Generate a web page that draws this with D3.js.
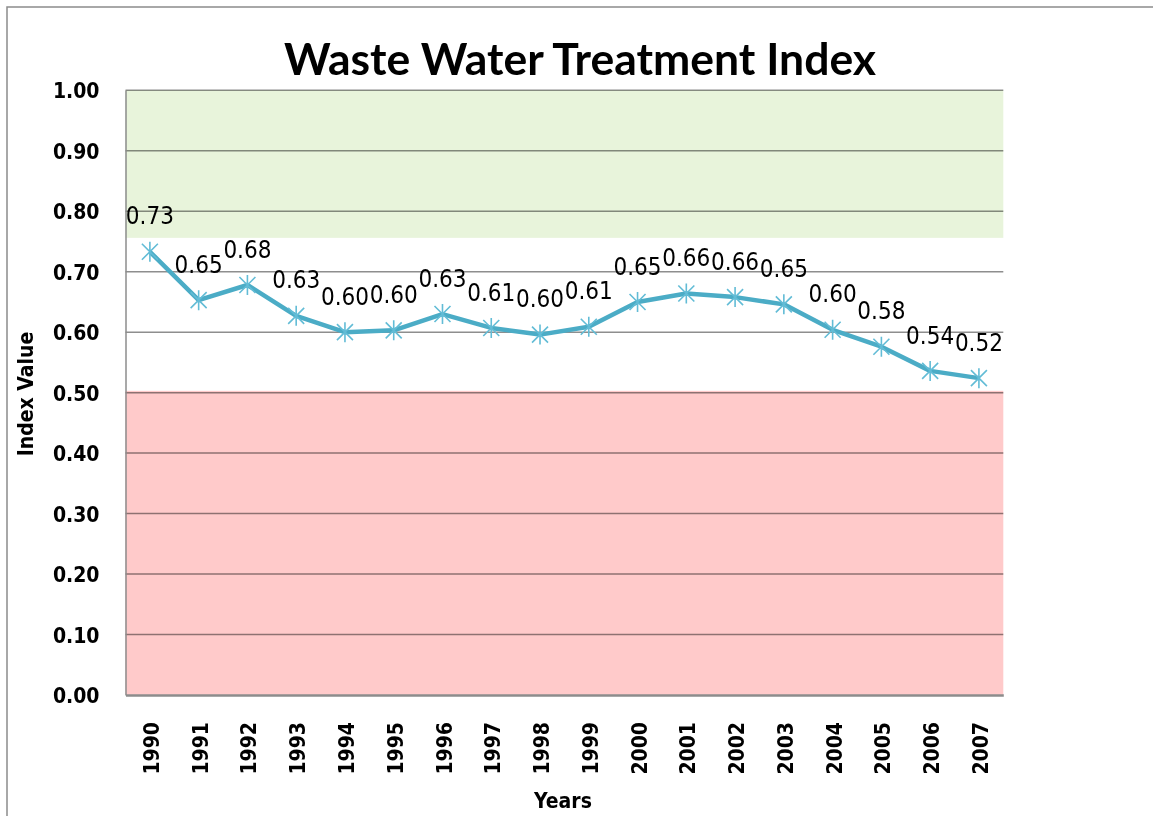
<!DOCTYPE html>
<html>
<head>
<meta charset="utf-8">
<script src="https://cdn.jsdelivr.net/npm/d3@7/dist/d3.min.js"></script>
<style>
  html, body { margin: 0; padding: 0; background: #fff; }
  svg { display: block; }
  .cond { font-family: "DejaVu Sans Condensed", "DejaVu Sans"; font-stretch: condensed; }
</style>
</head>
<body>
<svg id="chart" width="1153" height="816"></svg>
<script>
const years = ["1990","1991","1992","1993","1994","1995","1996","1997","1998","1999","2000","2001","2002","2003","2004","2005","2006","2007"];
const indexValues = [0.733,0.653,0.678,0.627,0.600,0.603,0.630,0.607,0.596,0.609,0.650,0.664,0.658,0.646,0.604,0.576,0.536,0.524];
const yTicks = [0,0.1,0.2,0.3,0.4,0.5,0.6,0.7,0.8,0.9,1.0];
const goodBand = [0.756, 1.0];
const poorBand = [0, 0.503];
const titleText = "Waste Water Treatment Index";
const xTitle = "Years";
const yTitle = "Index Value";

(function () {
const svg = d3.select("#chart");
const pLeft = 125.5, pRight = 1003.3, pTop = 90.3, pBottom = 695;

const x = d3.scaleBand().domain(years).range([pLeft, pRight]).padding(0);
const y = d3.scaleLinear().domain([0, 1]).range([pBottom, pTop]);

// outer frame
svg.append("rect").attr("x", 7).attr("y", 7).attr("width", 1160).attr("height", 830)
  .attr("fill", "none").attr("stroke", "#8c8c8c").attr("stroke-width", 1.5);

// bands
svg.append("rect").attr("x", pLeft).attr("width", pRight - pLeft)
  .attr("y", y(goodBand[1])).attr("height", y(goodBand[0]) - y(goodBand[1]))
  .attr("fill", "#e8f4db");
svg.append("rect").attr("x", pLeft).attr("width", pRight - pLeft)
  .attr("y", y(poorBand[1])).attr("height", y(poorBand[0]) - y(poorBand[1]))
  .attr("fill", "#ffcaca");

// gridlines
svg.append("g").selectAll("line").data(yTicks.filter(d => d > 0)).join("line")
  .attr("x1", pLeft).attr("x2", pRight)
  .attr("y1", d => y(d)).attr("y2", d => y(d))
  .attr("stroke", "#8e8e8e").attr("stroke-width", 1.5)
  .style("mix-blend-mode", "multiply");

// axes
const yAxis = d3.axisLeft(y).tickValues(yTicks).tickFormat(d3.format(".2f")).tickSize(0).tickPadding(26);
const gy = svg.append("g").attr("transform", `translate(${pLeft},0)`).call(yAxis);
gy.attr("font-family", null);
gy.select(".domain").attr("stroke", "#8c8c8c").attr("stroke-width", 1.5);
gy.selectAll("text").attr("class", "cond").attr("font-weight", "bold")
  .attr("font-size", 21).attr("fill", "#000").attr("dy", "0.36em");

const xAxis = d3.axisBottom(x).tickSize(0);
const gx = svg.append("g").attr("transform", `translate(0,${pBottom})`).call(xAxis);
gx.attr("font-family", null);
gx.select(".domain").attr("stroke", "#8c8c8c").attr("stroke-width", 2.5);
gx.selectAll("text")
  .attr("class", "cond").attr("font-weight", "bold").attr("font-size", 21).attr("fill", "#000")
  .attr("text-anchor", "end")
  .attr("transform", "rotate(-90)")
  .attr("x", -27).attr("y", 1.5).attr("dy", "0.36em");

// line
const line = d3.line().x((d, i) => x(years[i]) + x.bandwidth() / 2).y(d => y(d));
svg.append("path").datum(indexValues).attr("d", line)
  .attr("fill", "none").attr("stroke", "#4bacc6").attr("stroke-width", 4.5)
  .attr("stroke-linejoin", "round");

// markers (asterisk)
const r = 10;
const star = `M${-r*0.8},${-r*0.8}L${r*0.8},${r*0.8}M${-r*0.8},${r*0.8}L${r*0.8},${-r*0.8}M0,${-r}L0,${r}`;
svg.append("g").selectAll("path").data(indexValues).join("path")
  .attr("transform", (d, i) => `translate(${x(years[i]) + x.bandwidth() / 2},${y(d)})`)
  .attr("d", star).attr("fill", "none").attr("stroke", "#62bcd6").attr("stroke-width", 1.6);

// data labels
svg.append("g").selectAll("text").data(indexValues).join("text")
  .attr("class", "cond")
  .attr("x", (d, i) => x(years[i]) + x.bandwidth() / 2)
  .attr("y", d => y(d) - 36)
  .attr("dy", "0.36em")
  .attr("text-anchor", "middle")
  .attr("font-size", 24).attr("fill", "#000")
  .text(d => d3.format(".2f")(d));

// titles
svg.append("text").attr("x", 580).attr("y", 75).attr("text-anchor", "middle")
  .attr("font-family", "Lato").attr("font-weight", "bold").attr("font-size", 44.5).attr("fill", "#000")
  .text(titleText);
svg.append("text").attr("class", "cond").attr("x", 563).attr("y", 808).attr("text-anchor", "middle")
  .attr("font-weight", "bold").attr("font-size", 21).attr("fill", "#000")
  .text(xTitle);
svg.append("text").attr("class", "cond").attr("transform", "translate(25,394) rotate(-90)").attr("text-anchor", "middle")
  .attr("dy", "0.36em")
  .attr("font-weight", "bold").attr("font-size", 21).attr("fill", "#000")
  .text(yTitle);
})();
</script>
</body>
</html>
